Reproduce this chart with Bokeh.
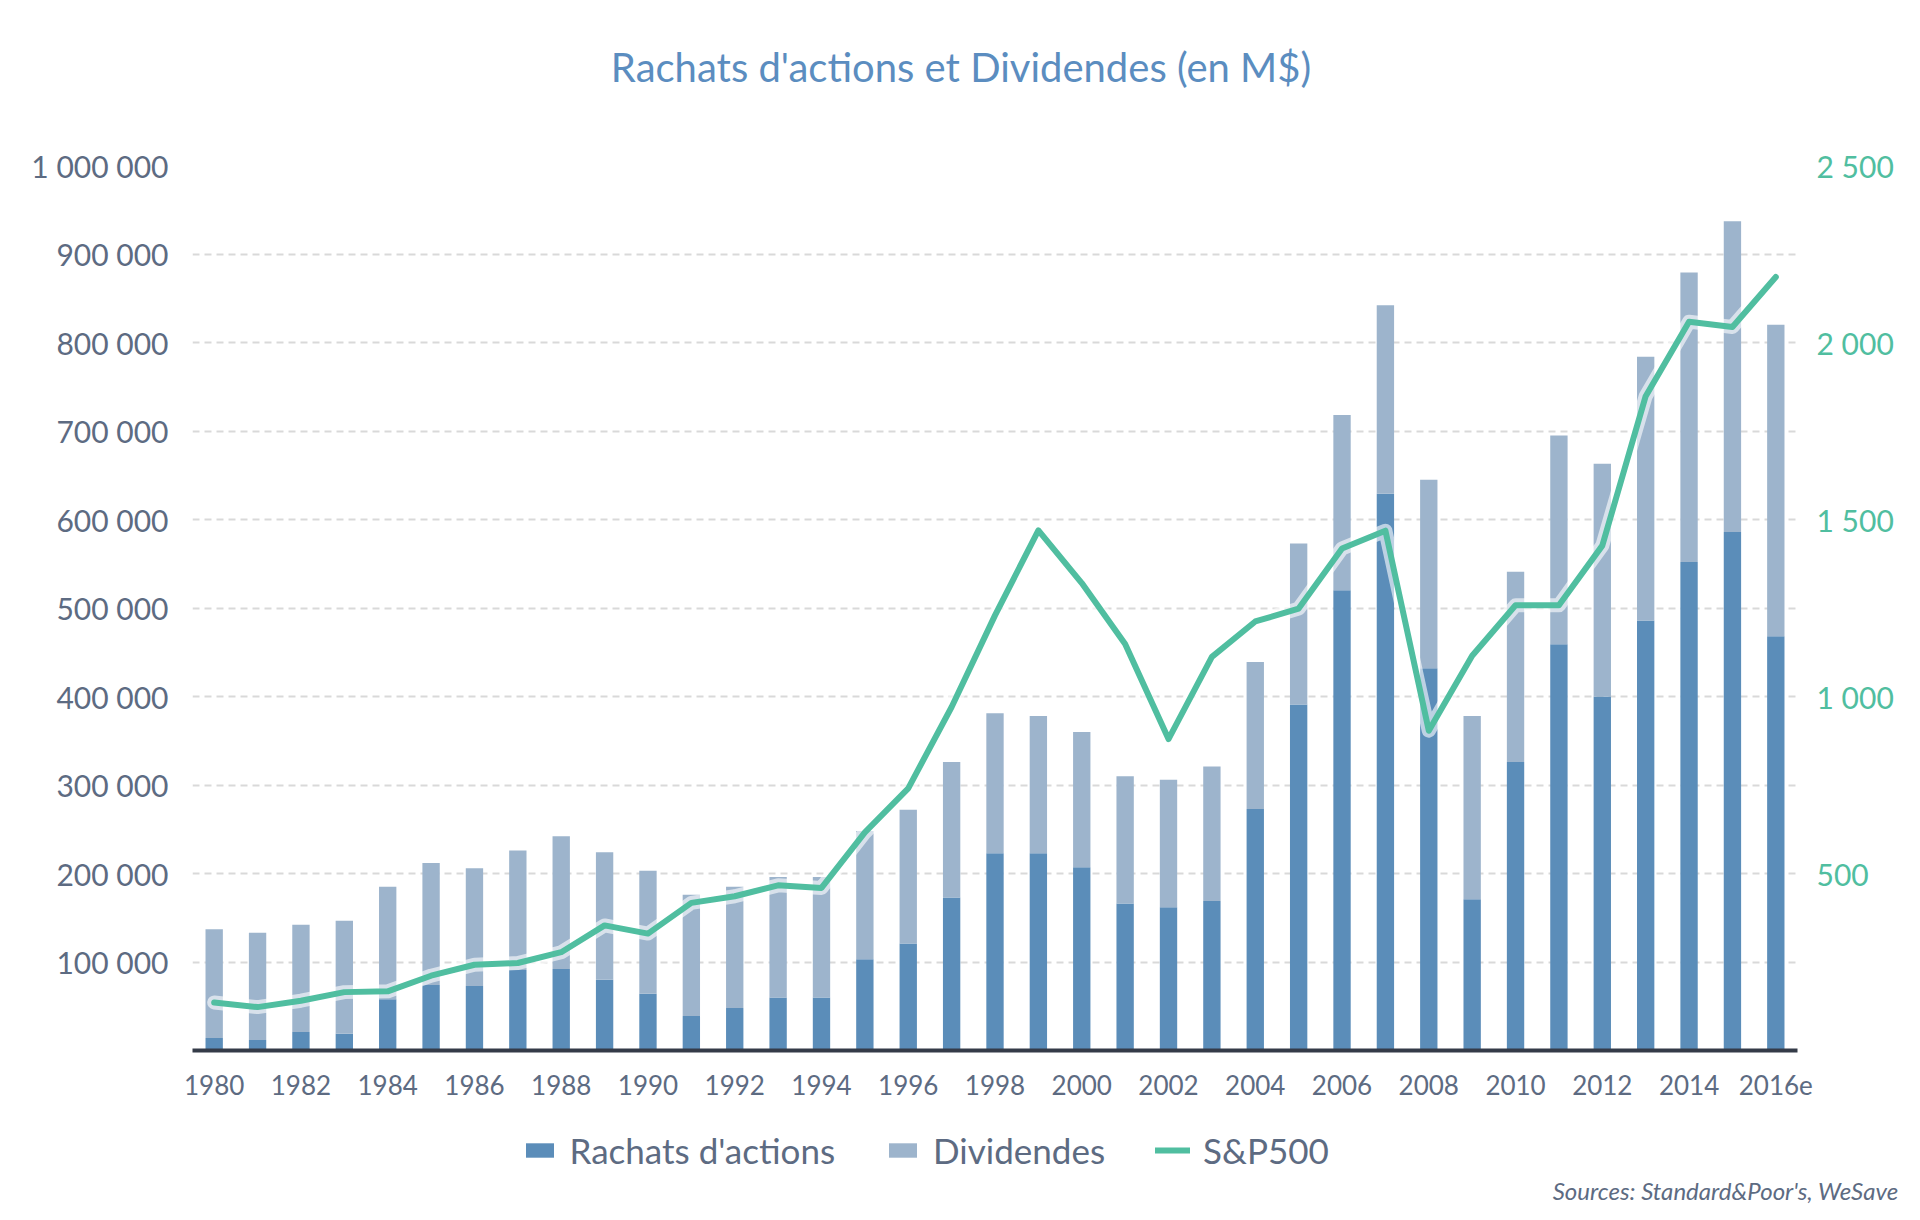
from bokeh.plotting import figure
from bokeh.models import (ColumnDataSource, Range1d, LinearAxis, FixedTicker,
                          Legend, LegendItem, Label)
from bokeh.layouts import column
from bokeh.embed import file_html
from bokeh.resources import INLINE

# ---------------- data ----------------
years = ["1980", "1981", "1982", "1983", "1984", "1985", "1986", "1987", "1988",
         "1989", "1990", "1991", "1992", "1993", "1994", "1995", "1996", "1997",
         "1998", "1999", "2000", "2001", "2002", "2003", "2004", "2005", "2006",
         "2007", "2008", "2009", "2010", "2011", "2012", "2013", "2014", "2015",
         "2016e"]

rachats = [14000, 12000, 21000, 19000, 58000, 74000, 73000, 91000, 92000,
           80000, 64000, 39000, 48000, 60000, 60000, 103000, 121000, 173000,
           223000, 223000, 207000, 166000, 162000, 169000, 273000, 391000, 520000,
           629000, 432000, 171000, 326000, 459000, 400000, 486000, 552000, 586000,
           468000]

dividendes = [123000, 121000, 121000, 127500, 127000, 138000, 133000, 135000, 150000,
              144000, 139000, 137000, 137000, 136000, 136000, 145000, 151000, 153000,
              158000, 155000, 153000, 144000, 144000, 152000, 166000, 182000, 198000,
              213000, 213000, 207000, 215000, 236000, 263000, 298000, 327000, 351000,
              352000]

sp500 = [135.8, 122.6, 140.6, 164.9, 167.2, 211.3, 242.2, 247.1, 277.7,
         353.4, 330.2, 417.1, 435.7, 466.5, 459.3, 615.9, 740.7, 970.4,
         1229.2, 1469.3, 1320.3, 1148.1, 879.8, 1111.9, 1211.9, 1248.3, 1418.3,
         1468.4, 903.3, 1115.1, 1257.6, 1257.6, 1426.2, 1848.4, 2058.9, 2043.9,
         2185.0]

left_ticks = [100000, 200000, 300000, 400000, 500000, 600000, 700000, 800000,
              900000, 1000000]
left_tick_labels = ["100 000", "200 000", "300 000", "400 000", "500 000",
                    "600 000", "700 000", "800 000", "900 000", "1 000 000"]
right_ticks = [500, 1000, 1500, 2000, 2500]
right_tick_labels = ["500", "1 000", "1 500", "2 000", "2 500"]

title_text = "Rachats d'actions et Dividendes (en M$)"
source_text = "Sources: Standard&Poor's, WeSave"
series_names = ["Rachats d'actions", "Dividendes", "S&P500"]

# ---------------- styles ----------------
C_DARK = "#5b8db9"
C_LIGHT = "#9db4cc"
C_GREEN = "#50bea0"
C_LABEL = "#5d6b82"
C_TITLE = "#5b8dc0"
FONT = "Lato"

W = 1912
H_HEAD, H_MAIN, H_FOOT = 135, 985, 92

xs = list(range(len(years)))
src = ColumnDataSource(dict(x=xs, year=years, rachats=rachats,
                            dividendes=dividendes, sp=sp500))


def blank_figure(height, x_range):
    f = figure(width=W, height=height, output_backend="svg",
               toolbar_location=None, x_range=x_range, y_range=Range1d(0, 1),
               x_axis_location=None, y_axis_location=None,
               min_border=0, frame_align=False)
    f.outline_line_color = None
    f.xgrid.visible = False
    f.ygrid.visible = False
    f.border_fill_color = "white"
    f.background_fill_color = "white"
    return f


# ---------------- header (title) ----------------
head = blank_figure(H_HEAD, Range1d(0, 1))
head.add_layout(Label(x=960.5, y=69, x_units="screen", y_units="screen",
                      text=title_text, text_align="center",
                      text_baseline="alphabetic", text_font=FONT,
                      text_font_size="40px", text_color=C_TITLE))

# ---------------- main chart ----------------
p = figure(width=W, height=H_MAIN, output_backend="svg", toolbar_location=None,
           x_range=Range1d(-0.5, len(years) - 0.5),
           y_range=Range1d(0, 1000000),
           min_border_left=192, min_border_right=115,
           min_border_top=30, min_border_bottom=70, frame_align=False)
p.outline_line_color = None
p.background_fill_color = "white"
p.border_fill_color = "white"
p.extra_y_ranges = {"sp": Range1d(0, 2500)}

bars = p.vbar_stack(["rachats", "dividendes"], x="x", width=0.4, source=src,
                    color=[C_DARK, C_LIGHT], line_width=0)

p.line("x", "sp", source=src, y_range_name="sp", line_color="white",
       line_alpha=0.6, line_width=14, line_join="round", line_cap="round")
p.line("x", "sp", source=src, y_range_name="sp", line_color=C_GREEN,
       line_width=6, line_join="round", line_cap="round")

xa = p.xaxis[0]
xa.ticker = FixedTicker(ticks=xs[::2])
xa.major_label_overrides = {i: years[i] for i in xs[::2]}
xa.axis_line_color = "#343b48"
xa.axis_line_width = 4
xa.major_tick_line_color = None
xa.minor_tick_line_color = None
xa.major_tick_out = 0
xa.major_tick_in = 0
xa.major_label_standoff = 24
xa.major_label_text_font = FONT
xa.major_label_text_font_size = "26px"
xa.major_label_text_color = C_LABEL

ya = p.yaxis[0]
ya.ticker = FixedTicker(ticks=left_ticks)
ya.major_label_overrides = dict(zip(left_ticks, left_tick_labels))
ya.axis_line_color = None
ya.major_tick_line_color = None
ya.minor_tick_line_color = None
ya.major_tick_out = 0
ya.major_tick_in = 0
ya.major_label_standoff = 24
ya.major_label_text_font = FONT
ya.major_label_text_font_size = "30px"
ya.major_label_text_color = C_LABEL

ra = LinearAxis(y_range_name="sp", ticker=FixedTicker(ticks=right_ticks))
ra.major_label_overrides = dict(zip(right_ticks, right_tick_labels))
ra.axis_line_color = None
ra.major_tick_line_color = None
ra.minor_tick_line_color = None
ra.major_tick_out = 0
ra.major_tick_in = 0
ra.major_label_standoff = 19
ra.major_label_text_font = FONT
ra.major_label_text_font_size = "30px"
ra.major_label_text_color = C_GREEN
p.add_layout(ra, "right")

p.xgrid.visible = False
p.ygrid.ticker = FixedTicker(ticks=left_ticks)
p.ygrid.grid_line_color = "#d9d9d9"
p.ygrid.grid_line_width = 2
p.ygrid.grid_line_dash = "7 5"

# ---------------- footer (legend + source) ----------------
# legend swatches reuse the chart's data, drawn outside this strip's visible range
foot = blank_figure(H_FOOT, Range1d(-100, -99))
k_dark = foot.vbar(x="x", top="rachats", source=src, width=0.4,
                   color=C_DARK, line_width=0)
k_light = foot.vbar(x="x", top="dividendes", source=src, width=0.4,
                    color=C_LIGHT, line_width=0)
k_line = foot.line(x="x", y="sp", source=src, line_color=C_GREEN, line_width=6,
                   line_cap="round")

legend = Legend(items=[LegendItem(label=series_names[0], renderers=[k_dark]),
                       LegendItem(label=series_names[1], renderers=[k_light]),
                       LegendItem(label=series_names[2], renderers=[k_line])],
                orientation="horizontal", location=(521.5, 37),
                glyph_width=35, glyph_height=18, label_height=50,
                label_standoff=13, spacing=50,
                padding=0, margin=0, border_line_color=None,
                background_fill_alpha=0,
                label_text_font=FONT, label_text_font_size="35px",
                label_text_color=C_LABEL)
foot.add_layout(legend)

foot.add_layout(Label(x=1898, y=22, x_units="screen", y_units="screen",
                      text=source_text, text_align="right",
                      text_baseline="alphabetic", text_font=FONT,
                      text_font_style="italic", text_font_size="24px",
                      text_color=C_LABEL))

page = column(head, p, foot, spacing=0)
open("out.html", "w").write(file_html(page, INLINE))
